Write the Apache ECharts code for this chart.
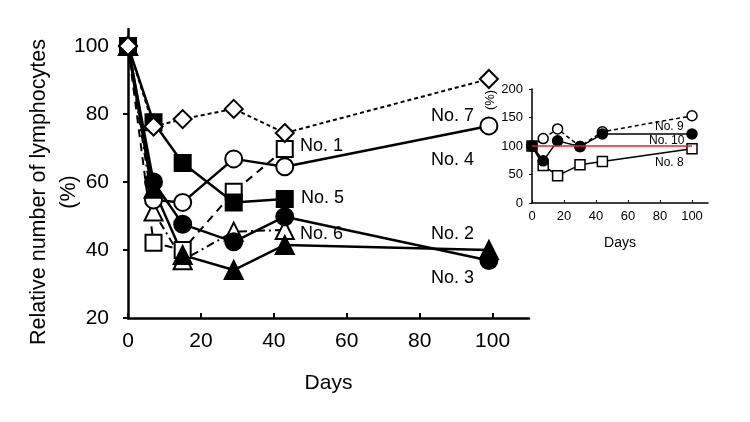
<!DOCTYPE html>
<html><head><meta charset="utf-8">
<script src="https://cdn.jsdelivr.net/npm/echarts@6/dist/echarts.min.js"></script>
<style>html,body{margin:0;padding:0;background:#fff}#c{width:750px;height:422px}</style>
</head><body><div id="c"></div>
<script>
const mainDays = [0, 7, 15, 29, 43, 99];
const no7 = [100, 76.3, 78.5, 81.5, 74.4, 90.3];
const no5 = [100, 77.6, 65.6, 54, 55];
const no4 = [100, 54.7, 54, 66.8, 64.5, 76.5];
const no1 = [100, 42.1, 40, 57.1, 69.7];
const no2 = [100, 60, 47.6, 42.4, 49.8, 36.9];
const no6 = [100, 51.3, 37, 45.4, 45.9];
const no3 = [100, 58, 38.5, 34.1, 41.5, 40];
const mainTicksY = [20, 40, 60, 80, 100];
const mainTicksX = [0, 20, 40, 60, 80, 100];

const insetDays = [0, 7, 16, 30, 44, 100];
const no9 = [100, 113, 130, 99, 125, 153];
const no10 = [100, 74, 109, 99, 121, 121];
const no8 = [100, 66, 48, 67, 73, 95];
const refLine = [[0, 100], [100, 100]];
const insetTicksY = [0, 50, 100, 150, 200];
const insetTicksX = [0, 20, 40, 60, 80, 100];

const FONT = 'Liberation Sans, Arial, sans-serif';
const pair = (d, v) => v.map((y, i) => [d[i], y]);

function ser(name, days, vals, sym, size, filled, dash, grid, lw) {
  return {
    name, type: 'line', xAxisIndex: grid, yAxisIndex: grid,
    data: pair(days, vals), symbol: sym, symbolSize: size,
    lineStyle: { color: '#000', width: lw, type: dash },
    itemStyle: { color: filled ? '#000' : '#fff', borderColor: '#000', borderWidth: grid ? 1.5 : 2 },
    emphasis: { disabled: true }, animation: false, z: 3
  };
}

const option = {
  backgroundColor: '#fff',
  animation: false,
  grid: [
    { left: 128, top: 29, width: 401, height: 289 },
    { left: 532, top: 89, width: 176, height: 114 }
  ],
  xAxis: [
    { type: 'value', gridIndex: 0, min: 0, max: 110, interval: 20,
      axisLine: { lineStyle: { color: '#000', width: 2.5 } },
      axisTick: { inside: true, length: 5, lineStyle: { color: '#000', width: 2 }, customValues: mainTicksX },
      axisLabel: { customValues: mainTicksX, color: '#000', fontSize: 21, fontFamily: FONT, margin: 13 },
      splitLine: { show: false },
      name: 'Days', nameLocation: 'middle', nameGap: 55,
      nameTextStyle: { color: '#000', fontSize: 21, fontFamily: FONT } },
    { type: 'value', gridIndex: 1, min: 0, max: 110, interval: 20,
      axisLine: { lineStyle: { color: '#000', width: 1.5 } },
      axisTick: { inside: true, length: 3, lineStyle: { color: '#000', width: 1 }, customValues: insetTicksX },
      axisLabel: { customValues: insetTicksX, color: '#000', fontSize: 13, fontFamily: FONT, margin: 7 },
      splitLine: { show: false },
      name: 'Days', nameLocation: 'middle', nameGap: 33,
      nameTextStyle: { color: '#000', fontSize: 14, fontFamily: FONT } }
  ],
  yAxis: [
    { type: 'value', gridIndex: 0, min: 20, max: 105,
      axisLine: { show: true, lineStyle: { color: '#000', width: 2.5 } },
      axisTick: { show: true, length: 5, lineStyle: { color: '#000', width: 2 }, customValues: mainTicksY },
      axisLabel: { customValues: mainTicksY, color: '#000', fontSize: 21, fontFamily: FONT, margin: 19 },
      splitLine: { show: false } },
    { type: 'value', gridIndex: 1, min: 0, max: 200,
      axisLine: { show: true, lineStyle: { color: '#000', width: 1.5 } },
      axisTick: { show: true, length: 3, lineStyle: { color: '#000', width: 1 }, customValues: insetTicksY },
      axisLabel: { customValues: insetTicksY, color: '#000', fontSize: 13, fontFamily: FONT, margin: 9 },
      splitLine: { show: false } }
  ],
  series: [
    ser('No. 1', mainDays, no1, 'rect', 16, false, [8, 6], 0, 2),
    ser('No. 6', mainDays, no6, 'triangle', 18, false, [8, 4, 2, 4], 0, 2),
    ser('No. 4', mainDays, no4, 'circle', 17, false, 'solid', 0, 2.5),
    ser('No. 5', mainDays, no5, 'rect', 16, true, 'solid', 0, 2.5),
    ser('No. 3', mainDays, no3, 'triangle', 18, true, 'solid', 0, 2.5),
    ser('No. 2', mainDays, no2, 'circle', 17, true, 'solid', 0, 2.5),
    ser('No. 7', mainDays, no7, 'diamond', 18, false, [4, 3], 0, 2),
    { name: 'ref', type: 'line', xAxisIndex: 1, yAxisIndex: 1, data: refLine, symbol: 'none',
      lineStyle: { color: '#e3262a', width: 1.5 }, z: 4, animation: false },
    ser('No. 8', insetDays, no8, 'rect', 10, false, 'solid', 1, 1.5),
    ser('No. 9', insetDays, no9, 'circle', 10, false, [4, 3], 1, 1.5),
    ser('No. 10', insetDays, no10, 'circle', 10, true, 'solid', 1, 1.5)
  ],
  graphic: [
    { type: 'text', x: 54, y: 192, rotation: Math.PI / 2, style: { text: 'Relative number of lymphocytes\n(%)', font: '21.5px ' + FONT, fill: '#000', align: 'center', verticalAlign: 'middle', lineHeight: 30 } },
    { type: 'text', x: 490, y: 100, rotation: Math.PI / 2, style: { text: '(%)', font: '13px ' + FONT, fill: '#000', align: 'center', verticalAlign: 'middle' } },
    { type: 'text', x: 431, y: 116, style: { text: 'No. 7', font: '18px ' + FONT, fill: '#000', verticalAlign: 'middle' } },
    { type: 'text', x: 431, y: 160, style: { text: 'No. 4', font: '18px ' + FONT, fill: '#000', verticalAlign: 'middle' } },
    { type: 'text', x: 300, y: 146, style: { text: 'No. 1', font: '18px ' + FONT, fill: '#000', verticalAlign: 'middle' } },
    { type: 'text', x: 301, y: 198, style: { text: 'No. 5', font: '18px ' + FONT, fill: '#000', verticalAlign: 'middle' } },
    { type: 'text', x: 300, y: 234, style: { text: 'No. 6', font: '18px ' + FONT, fill: '#000', verticalAlign: 'middle' } },
    { type: 'text', x: 431, y: 234, style: { text: 'No. 2', font: '18px ' + FONT, fill: '#000', verticalAlign: 'middle' } },
    { type: 'text', x: 431, y: 278, style: { text: 'No. 3', font: '18px ' + FONT, fill: '#000', verticalAlign: 'middle' } },
    { type: 'text', x: 655, y: 127, style: { text: 'No. 9', font: '12px ' + FONT, fill: '#000', verticalAlign: 'middle' } },
    { type: 'text', x: 649, y: 141, style: { text: 'No. 10', font: '12px ' + FONT, fill: '#000', verticalAlign: 'middle' } },
    { type: 'text', x: 655, y: 163, style: { text: 'No. 8', font: '12px ' + FONT, fill: '#000', verticalAlign: 'middle' } }
  ]
};
const chart = echarts.init(document.getElementById('c'), null, { renderer: 'canvas' });
chart.setOption(option);
</script></body></html>
